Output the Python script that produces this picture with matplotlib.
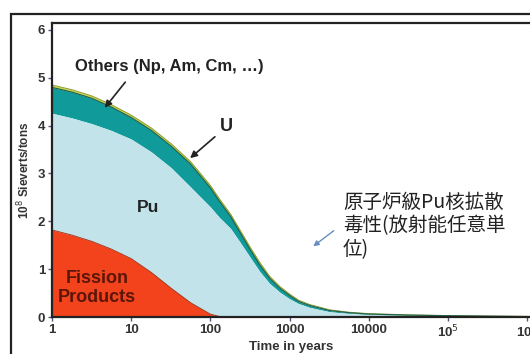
import numpy as np
import matplotlib.pyplot as plt
from matplotlib.patches import Rectangle

# Time axis (years) and the thickness of each stacked layer (10^8 Sv/ton)
years = [1, 1.8, 3.2, 5.6, 10, 18, 32, 56, 100, 130, 180, 240, 320, 420, 560,
         750, 1000, 1300, 1800, 3200, 5600, 10000, 32000, 100000, 320000,
         1000000]
fission_products = [1.82, 1.71, 1.58, 1.42, 1.22, 0.93, 0.60, 0.30, 0.06, 0.01,
                     0, 0, 0, 0, 0, 0, 0, 0, 0, 0, 0, 0, 0, 0, 0, 0]
plutonium = [2.44, 2.45, 2.46, 2.48, 2.50, 2.52, 2.52, 2.42, 2.24, 2.07, 1.85,
             1.55, 1.24, 0.95, 0.70, 0.52, 0.38, 0.28, 0.20, 0.11, 0.075, 0.05,
             0.032, 0.02, 0.012, 0.008]
others = [0.54, 0.54, 0.53, 0.49, 0.45, 0.45, 0.45, 0.48, 0.40, 0.34, 0.25,
          0.20, 0.16, 0.14, 0.11, 0.085, 0.07, 0.045, 0.04, 0.025, 0.015,
          0.012, 0.008, 0.006, 0.005, 0.002]
uranium = [0.05, 0.05, 0.05, 0.05, 0.05, 0.05, 0.05, 0.05, 0.05, 0.05, 0.05,
           0.05, 0.05, 0.05, 0.04, 0.035, 0.03, 0.025, 0.02, 0.015, 0.01,
           0.008, 0.005, 0.004, 0.003, 0.002]

x_ticks = [1, 10, 100, 1000, 10000, 1e5, 1e6]
x_labels = ["1", "10", "100", "1000", "10000", "10$^5$", "10$^6$"]
y_ticks = [0, 1, 2, 3, 4, 5, 6]

latin = "Liberation Sans"
cjk = ["Noto Sans CJK JP", "DejaVu Sans"]


def px(x, y):
    """Pixel position of the reference picture -> data coords"""
    return 10 ** ((x - 52) / 79.2), (317 - y) / 47.83


fig = plt.figure(figsize=(5.3, 3.54), dpi=100)
fig.patch.set_facecolor("white")

# outer frame of the original slide
fig.patches.append(Rectangle((11 / 530, -0.1), 1.2, 1 - 14 / 354 + 0.1,
                             transform=fig.transFigure, fill=False,
                             edgecolor="#222222", linewidth=1.6))

ax = fig.add_axes([52 / 530, 37 / 354, 478 / 530, 294 / 354])
ax.set_xscale("log")
ax.set_xlim(1, 10 ** 6.035)
ax.set_ylim(0, 6.146)

t = np.array(years, dtype=float)
fp = np.array(fission_products)
pu = fp + np.array(plutonium)
ot = pu + np.array(others)
u = ot + np.array(uranium)

ax.fill_between(t, ot, u, color="#C8D44A", lw=0)
ax.fill_between(t, pu, ot, color="#109A9A", lw=0)
ax.fill_between(t, fp, pu, color="#C2E3EA", lw=0)
ax.fill_between(t, 0, fp, where=fp > 0, color="#F2431C", lw=0, interpolate=True)
ax.plot(t, u, color="#8A9A30", lw=0.7)
ax.plot(t, ot, color="#1D5E4E", lw=0.8)
ax.plot(t[:11], fp[:11], color="#A02A10", lw=0.6)

for s in ["left", "bottom", "top"]:
    ax.spines[s].set_linewidth(1.6)
    ax.spines[s].set_color("#222222")
ax.spines["right"].set_visible(False)

ax.set_xticks(x_ticks)
ax.set_xticklabels(x_labels)
ax.xaxis.set_minor_locator(plt.NullLocator())
ax.set_yticks(y_ticks)
ax.tick_params(length=3, width=1, pad=2, colors="#555577", labelcolor="#333333")
for lab in ax.get_xticklabels() + ax.get_yticklabels():
    lab.set_fontfamily(latin)
    lab.set_fontweight("bold")
    lab.set_fontsize(9.5)

ax.set_xlabel("Time in years", family=latin, weight="bold", fontsize=9.5,
              color="#333333", labelpad=0)
ax.set_ylabel("10$^8$ Sieverts/tons", family=latin, weight="bold",
              fontsize=8.5, color="#333333", labelpad=4)

ax.text(*px(75, 67), "Others (Np, Am, Cm, \u2026)", family=latin,
        weight="bold", fontsize=12, color="#222222", ha="left", va="center")
ax.annotate("", xy=px(103, 110), xytext=px(127, 80),
            arrowprops=dict(arrowstyle="-|>", color="#222222", lw=1.2,
                            mutation_scale=10))
ax.text(*px(226, 127), "U", family=latin, weight="bold", fontsize=13,
        color="#222222", ha="center", va="center")
ax.annotate("", xy=px(188, 160), xytext=px(217, 135),
            arrowprops=dict(arrowstyle="-|>", color="#222222", lw=1.2,
                            mutation_scale=10))
ax.text(*px(148, 208), "Pu", family=latin, weight="bold", fontsize=12.5,
        color="#222222", ha="center", va="center")
ax.text(*px(97, 288), "Fission\nProducts", family=latin, weight="bold",
        fontsize=13, color="#5A1608", ha="center", va="center",
        linespacing=1.15)

ax.text(*px(343, 226), "原子炉級Pu核拡散\n毒性(放射能任意単\n位)", family=cjk,
        fontsize=14, color="#222222", ha="left", va="center",
        linespacing=1.15)
ax.annotate("", xy=px(311, 248), xytext=px(336, 229),
            arrowprops=dict(arrowstyle="-|>", color="#6A8CC0", lw=1.0,
                            mutation_scale=8))

fig.savefig("out.png", dpi=100)
